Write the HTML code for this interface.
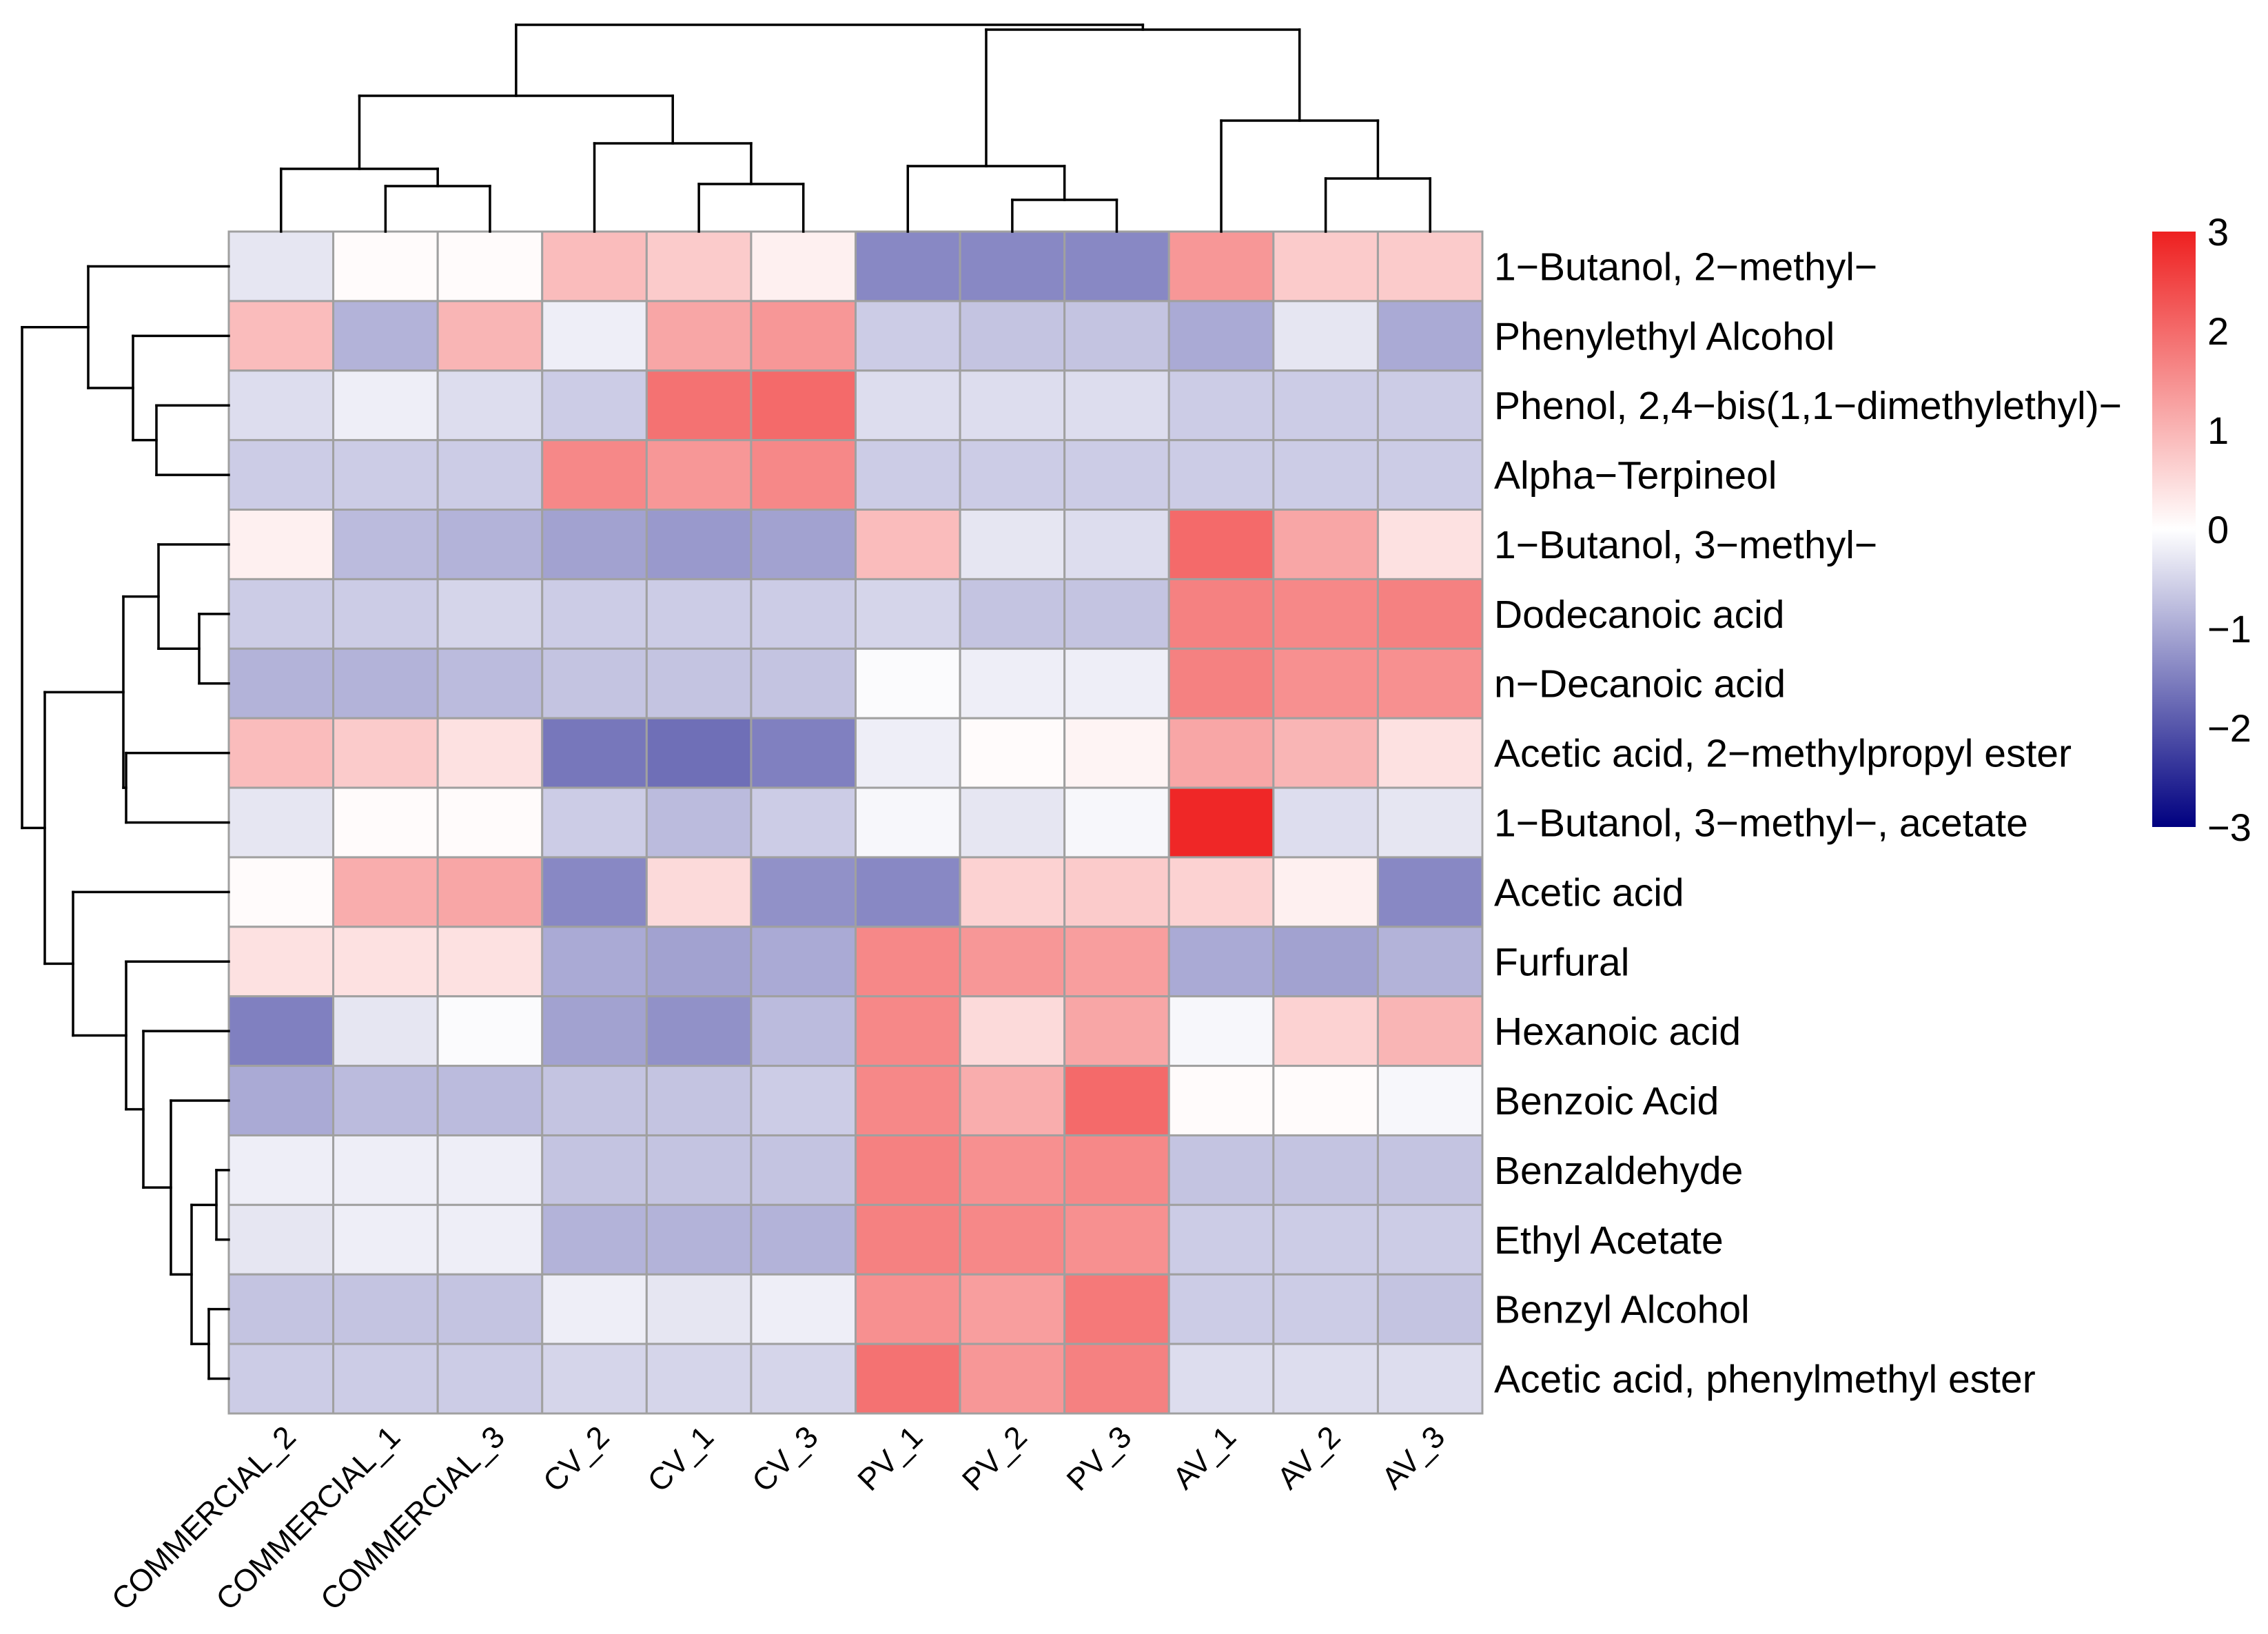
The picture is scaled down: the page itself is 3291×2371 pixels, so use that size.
<!DOCTYPE html>
<html><head><meta charset="utf-8"><style>
html,body{margin:0;padding:0;background:#fff;}
svg{display:block;font-family:"Liberation Sans",Arial,sans-serif;}
</style></head><body>
<svg id="chart" width="3291" height="2371" viewBox="0 0 3291 2371" xmlns="http://www.w3.org/2000/svg">
<defs><linearGradient id="lg" x1="0" y1="1" x2="0" y2="0">
<stop offset="0" stop-color="#000080"/><stop offset="0.5" stop-color="#ffffff"/><stop offset="1" stop-color="#ee2020"/>
</linearGradient></defs>
<g id="cells"></g>
<g id="rlabels"></g>
<g id="clabels"></g>
<g id="dendro"></g>
<g>
<rect x="3123" y="336" width="63" height="864" fill="url(#lg)"/>
<g id="ticks" font-size="56" fill="#000"></g>
</g>
</svg>
<script>
const columns = ["COMMERCIAL_2","COMMERCIAL_1","COMMERCIAL_3","CV_2","CV_1","CV_3","PV_1","PV_2","PV_3","AV_1","AV_2","AV_3"];
const rowsNames = ["1\u2212Butanol, 2\u2212methyl\u2212","Phenylethyl Alcohol","Phenol, 2,4\u2212bis(1,1\u2212dimethylethyl)\u2212","Alpha\u2212Terpineol","1\u2212Butanol, 3\u2212methyl\u2212","Dodecanoic acid","n\u2212Decanoic acid","Acetic acid, 2\u2212methylpropyl ester","1\u2212Butanol, 3\u2212methyl\u2212, acetate","Acetic acid","Furfural","Hexanoic acid","Benzoic Acid","Benzaldehyde","Ethyl Acetate","Benzyl Alcohol","Acetic acid, phenylmethyl ester"];
const values = [
[-0.3,0.05,0.05,0.9,0.7,0.2,-1.4,-1.4,-1.4,1.4,0.7,0.7],
[0.9,-0.9,1.0,-0.2,1.2,1.4,-0.6,-0.7,-0.7,-1.0,-0.3,-1.0],
[-0.4,-0.2,-0.4,-0.6,1.9,2.0,-0.4,-0.4,-0.4,-0.6,-0.6,-0.6],
[-0.6,-0.6,-0.6,1.6,1.4,1.6,-0.6,-0.6,-0.6,-0.6,-0.6,-0.6],
[0.2,-0.8,-0.9,-1.1,-1.2,-1.1,0.9,-0.3,-0.4,2.0,1.2,0.4],
[-0.6,-0.6,-0.5,-0.6,-0.6,-0.6,-0.5,-0.7,-0.7,1.7,1.6,1.7],
[-0.9,-0.9,-0.8,-0.7,-0.7,-0.7,-0.05,-0.2,-0.2,1.7,1.5,1.5],
[0.9,0.7,0.4,-1.6,-1.7,-1.5,-0.2,0.05,0.15,1.2,1.0,0.4],
[-0.3,0.05,0.05,-0.6,-0.8,-0.6,-0.1,-0.3,-0.1,2.9,-0.4,-0.3],
[0.05,1.1,1.2,-1.4,0.5,-1.3,-1.4,0.6,0.7,0.6,0.2,-1.4],
[0.4,0.4,0.4,-1.0,-1.1,-1.0,1.6,1.4,1.3,-1.0,-1.1,-0.9],
[-1.5,-0.3,-0.05,-1.1,-1.3,-0.8,1.6,0.5,1.2,-0.1,0.6,1.0],
[-1.0,-0.8,-0.8,-0.7,-0.7,-0.6,1.6,1.1,2.0,0.05,0.05,-0.1],
[-0.2,-0.2,-0.2,-0.7,-0.7,-0.7,1.7,1.5,1.6,-0.7,-0.7,-0.7],
[-0.3,-0.2,-0.2,-0.9,-0.9,-0.9,1.7,1.6,1.5,-0.6,-0.6,-0.6],
[-0.7,-0.7,-0.7,-0.2,-0.3,-0.2,1.5,1.3,1.8,-0.6,-0.6,-0.7],
[-0.6,-0.6,-0.6,-0.5,-0.5,-0.5,1.9,1.4,1.7,-0.4,-0.4,-0.4]];
const legendTicks = [3,2,1,0,-1,-2,-3];

const NS="http://www.w3.org/2000/svg";
const X0=332,X1=2151,Y0=336,Y1=2051;
const cw=(X1-X0)/columns.length, rh=(Y1-Y0)/rowsNames.length;
function xs(i){return X0+i*cw;} function ys(j){return Y0+j*rh;}
function color(v){
  v=Math.max(-3,Math.min(3,v));
  let r,g,b;
  if(v<0){const t=-v/3;r=255*(1-t);g=255*(1-t);b=255+(128-255)*t;}
  else{const t=v/3;r=255+(238-255)*t;g=255+(32-255)*t;b=g;}
  return `rgb(${Math.round(r)},${Math.round(g)},${Math.round(b)})`;
}
function mk(tag,attrs,parent){const e=document.createElementNS(NS,tag);for(const k in attrs)e.setAttribute(k,attrs[k]);parent.appendChild(e);return e;}
const cells=document.getElementById('cells');
values.forEach((row,j)=>row.forEach((v,i)=>{
  const r=mk('rect',{x:xs(i),y:ys(j),width:cw,height:rh,fill:color(v),stroke:'#a0a0a0','stroke-width':3},cells);
  
  
}));
const rl=document.getElementById('rlabels');
rowsNames.forEach((n,j)=>{
  const t=mk('text',{x:2168,y:ys(j)+rh/2+20,'font-size':57},rl);t.textContent=n;
  
  
});
const cl=document.getElementById('clabels');
columns.forEach((n,i)=>{
  const cx=xs(i)+cw/2+24, cy=2088;
  const t=mk('text',{x:cx,y:cy,'font-size':45,'text-anchor':'end',transform:`rotate(-45 ${cx} ${cy})`},cl);t.textContent=n;
  
  
});
const tk=document.getElementById('ticks');
legendTicks.forEach(v=>{
  const y=336+(3-v)/6*864;
  const t=mk('text',{x:3203,y:y+20},tk);t.textContent=(v<0?'\u2212'+(-v):v);
  
  
});
const dg=document.getElementById('dendro');
function line(x1,y1,x2,y2){const l=mk('line',{x1,y1,x2,y2,stroke:'#000','stroke-width':3.5,'stroke-linecap':'square'},dg);
  
  }
function topNode(a,b,h){const xa=a.x,xb=b.x;line(xa,a.y,xa,h);line(xb,b.y,xb,h);line(xa,h,xb,h);return {x:(xa+xb)/2,y:h};}
const L=i=>({x:xs(i)+cw/2,y:Y0});
const c13=topNode(L(1),L(2),270), cm=topNode(L(0),c13,245);
const cv13=topNode(L(4),L(5),267), cv=topNode(L(3),cv13,208);
const ccv=topNode(cm,cv,139);
const pv23=topNode(L(7),L(8),290), pv=topNode(L(6),pv23,241);
const av23=topNode(L(10),L(11),259), av=topNode(L(9),av23,175);
const pa=topNode(pv,av,43);
topNode(ccv,pa,36);
function leftNode(a,b,x){line(a.x,a.y,x,a.y);line(b.x,b.y,x,b.y);line(x,a.y,x,b.y);return {x,y:(a.y+b.y)/2};}
const R=j=>({x:X0,y:ys(j)+rh/2});
const g34=leftNode(R(2),R(3),227), g24=leftNode(R(1),g34,193), g14=leftNode(R(0),g24,128);
const g67=leftNode(R(5),R(6),289), g57=leftNode(R(4),g67,230), g89=leftNode(R(7),R(8),183), g59=leftNode(g57,g89,179);
const g1617=leftNode(R(15),R(16),303), g1415=leftNode(R(13),R(14),314), g1417=leftNode(g1415,g1617,278);
const g13=leftNode(R(12),g1417,248), g12=leftNode(R(11),g13,208), g11=leftNode(R(10),g12,183), g10=leftNode(R(9),g11,106);
const g517=leftNode(g59,g10,65);
leftNode(g14,g517,32);
</script>
</body></html>
